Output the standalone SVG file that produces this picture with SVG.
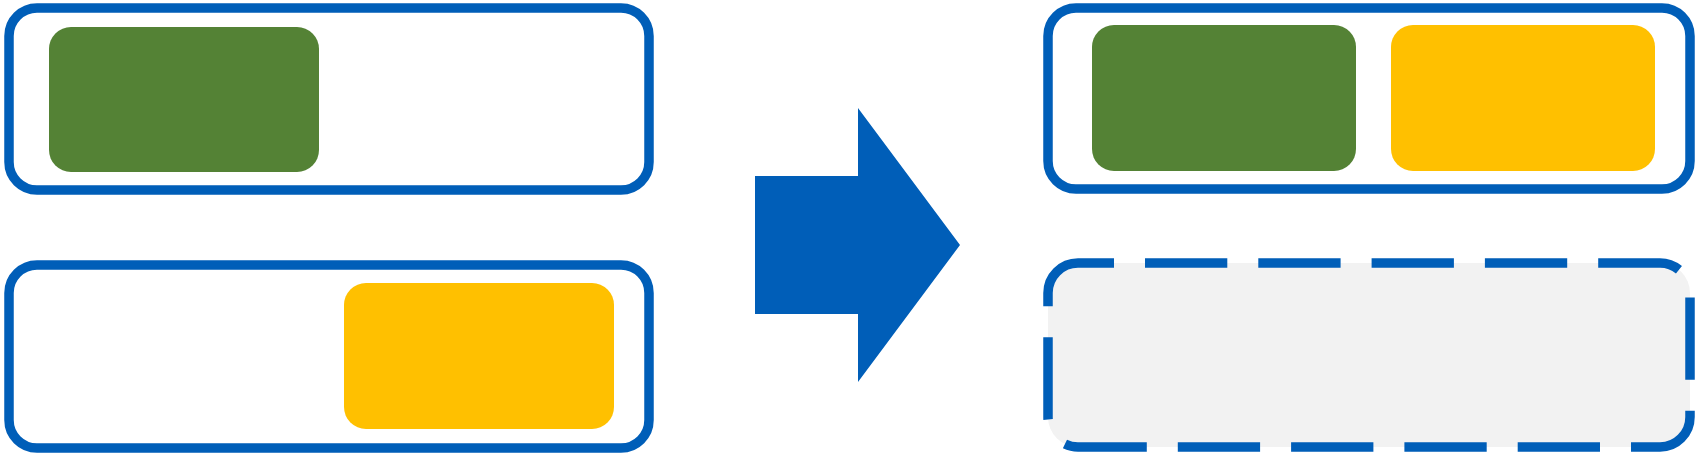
<svg xmlns="http://www.w3.org/2000/svg" width="1695" height="453" viewBox="0 0 1695 453">
<style>
.frame{fill:#FFFFFF;stroke:#005EB8;stroke-width:9.5}
.dashed{fill:#F2F2F2;stroke:#005EB8;stroke-width:9.5;stroke-dasharray:82.3 31;stroke-dashoffset:46.3}
.green{fill:#548235}
.yellow{fill:#FFC000}
.arrow{fill:#005EB8}
</style>
<g id="before-top">
<rect class="frame" x="9" y="8" width="640" height="182" rx="28"/>
<rect class="green" x="49" y="27" width="270" height="145" rx="22"/>
</g>
<g id="before-bottom">
<rect class="frame" x="9" y="265" width="640" height="183" rx="28"/>
<rect class="yellow" x="344" y="283" width="270" height="146" rx="22"/>
</g>
<g id="connectors">
<polygon class="arrow" points="755,176 858,176 858,108 960,245 858,382 858,314 755,314"/>
</g>
<g id="after-top">
<rect class="frame" x="1048" y="8" width="642" height="181" rx="28"/>
<rect class="green" x="1092" y="25" width="264" height="146" rx="22"/>
<rect class="yellow" x="1391" y="25" width="264" height="146" rx="22"/>
</g>
<g id="after-bottom">
<rect class="dashed" x="1048" y="263" width="642" height="184" rx="30"/>
</g>
</svg>
